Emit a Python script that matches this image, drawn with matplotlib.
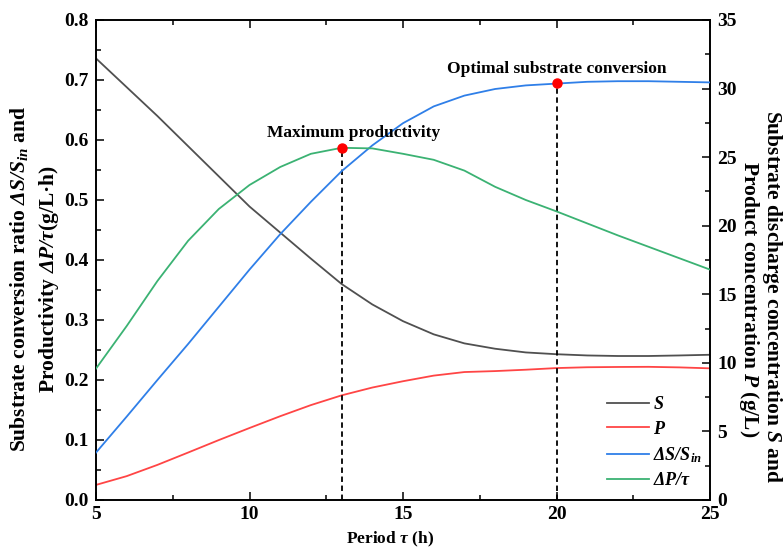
import matplotlib
matplotlib.use("Agg")
import matplotlib.pyplot as plt
from matplotlib.ticker import MultipleLocator, FormatStrFormatter

# ---------------- data ----------------
tau = [5, 6, 7, 8, 9, 10, 11, 12, 13, 14, 15, 16, 17, 18, 19, 20, 21, 22, 23, 24, 25]

# substrate discharge concentration S (g/L, right axis)
S = [32.2, 30.1, 28.0, 25.8, 23.6, 21.4, 19.5, 17.6, 15.75, 14.26, 13.04,
     12.08, 11.42, 11.03, 10.76, 10.63, 10.54, 10.50, 10.50, 10.54, 10.59]
# product concentration P (g/L, right axis)
P = [1.10, 1.74, 2.56, 3.46, 4.37, 5.25, 6.11, 6.92, 7.63, 8.20, 8.66,
     9.07, 9.33, 9.40, 9.50, 9.62, 9.68, 9.70, 9.71, 9.67, 9.60]
# substrate conversion ratio dS/S_in (left axis)
conv = [0.079, 0.139, 0.200, 0.260, 0.322, 0.384, 0.443, 0.497, 0.548, 0.591,
        0.628, 0.656, 0.674, 0.685, 0.691, 0.694, 0.697, 0.698, 0.698, 0.697, 0.696]
# productivity dP/tau (left axis)
prod = [0.219, 0.290, 0.365, 0.432, 0.485, 0.525, 0.555, 0.577, 0.587, 0.586,
        0.577, 0.567, 0.549, 0.522, 0.500, 0.481, 0.461, 0.441, 0.422, 0.403, 0.384]

key_tau = [13, 20]
key_value = [0.587, 0.695]
key_labels = ["Maximum productivity", "Optimal substrate conversion"]
key_offsets = [(8.3, 7.5), (0, 7.5)]

legend_labels = ["$S$", "$P$", r"$\mathbf{ΔS/S_{in}}$", r"$\mathbf{ΔP/τ}$"]

# ---------------- style ----------------
plt.rcParams["font.family"] = ["Liberation Serif", "DejaVu Serif"]
plt.rcParams["font.weight"] = "bold"
plt.rcParams["axes.labelweight"] = "bold"
plt.rcParams["mathtext.fontset"] = "custom"
plt.rcParams["mathtext.rm"] = "Liberation Serif:bold"
plt.rcParams["mathtext.it"] = "Liberation Serif:italic:bold"
plt.rcParams["mathtext.bf"] = "Liberation Serif:italic:bold"

c_S = "#505050"
c_P = "#ff4545"
c_conv = "#2f7fe8"
c_prod = "#3bb273"

fig = plt.figure(figsize=(7.83, 5.49), dpi=100)
ax = fig.add_axes([96 / 783, 1 - 500 / 549, 614 / 783, 480 / 549])
ax2 = ax.twinx()

lw = 1.3
h3, = ax.plot(tau, conv, color=c_conv, lw=lw, zorder=3)
h4, = ax.plot(tau, prod, color=c_prod, lw=lw, zorder=3)
h1, = ax2.plot(tau, S, color=c_S, lw=lw)
h2, = ax2.plot(tau, P, color=c_P, lw=lw)

ax.vlines(key_tau, 0, key_value, colors="black", linestyles=(0, (3, 2)), lw=1.3, zorder=2)
ax.plot(key_tau, key_value, "o", color="red", ms=6.5, zorder=5, mec="red")
for t, v, lab, off in zip(key_tau, key_value, key_labels, key_offsets):
    ax.annotate(lab, (t, v), xytext=off, textcoords="offset points",
                ha="center", va="baseline", fontsize=12.5, fontweight="bold")

ax.set_zorder(ax2.get_zorder() + 1)
ax.patch.set_visible(False)

ax.set_xlim(5, 25)
ax.set_ylim(0, 0.8)
ax2.set_ylim(0, 35)

ax.xaxis.set_major_locator(MultipleLocator(5))
ax.xaxis.set_minor_locator(MultipleLocator(2.5))
ax.yaxis.set_major_locator(MultipleLocator(0.1))
ax.yaxis.set_minor_locator(MultipleLocator(0.05))
ax.yaxis.set_major_formatter(FormatStrFormatter("%.1f"))
ax2.yaxis.set_major_locator(MultipleLocator(5))
ax2.yaxis.set_minor_locator(MultipleLocator(2.5))

tick_fs = 14
ax.tick_params(axis="x", which="both", direction="in", top=True, bottom=True, width=1.1)
ax.tick_params(axis="y", which="both", direction="in", left=True, right=False, width=1.1)
ax.tick_params(which="major", length=5.5)
ax.tick_params(which="minor", length=3.5)
ax.tick_params(axis="x", labelsize=tick_fs, pad=4)
ax.tick_params(axis="y", labelsize=tick_fs, pad=5)
ax2.tick_params(axis="y", which="both", direction="in", width=1.1, labelsize=tick_fs, pad=5)
ax2.tick_params(which="major", length=5.5)
ax2.tick_params(which="minor", length=3.5)

for a in (ax, ax2):
    for sp in a.spines.values():
        sp.set_linewidth(1.2)

ax.set_xlabel(r"Period $\mathbf{τ}$ (h)", fontsize=12.5)
ax.xaxis.set_label_coords(0.479, -0.062)

fs_lab = 15.5
fig.text(19 / 783, 1 - 279 / 549, r"Substrate conversion ratio $\mathbf{ΔS/S_{in}}$ and",
         rotation=90, ha="center", va="center", fontsize=fs_lab, fontweight="bold")
fig.text(49 / 783, 1 - 279 / 549, r"Productivity $\mathbf{ΔP/τ}$(g/L·h)",
         rotation=90, ha="center", va="center", fontsize=fs_lab, fontweight="bold")
fig.text(772 / 783, 1 - 297 / 549, r"Substrate discharge concentration $\mathbf{S}$ and",
         rotation=270, ha="center", va="center", fontsize=fs_lab, fontweight="bold")
fig.text(749 / 783, 1 - 299 / 549, r"Product concentration $\mathbf{P}$ (g/L)",
         rotation=270, ha="center", va="center", fontsize=fs_lab, fontweight="bold")

leg = ax.legend([h1, h2, h3, h4], legend_labels, loc="upper left",
                bbox_to_anchor=((607 - 96) / 614, (500 - 396) / 480),
                frameon=False, borderpad=0, borderaxespad=0, handlelength=2.3,
                handletextpad=0.25, labelspacing=0.42, fontsize=13)

fig.savefig("out.png", dpi=100)
